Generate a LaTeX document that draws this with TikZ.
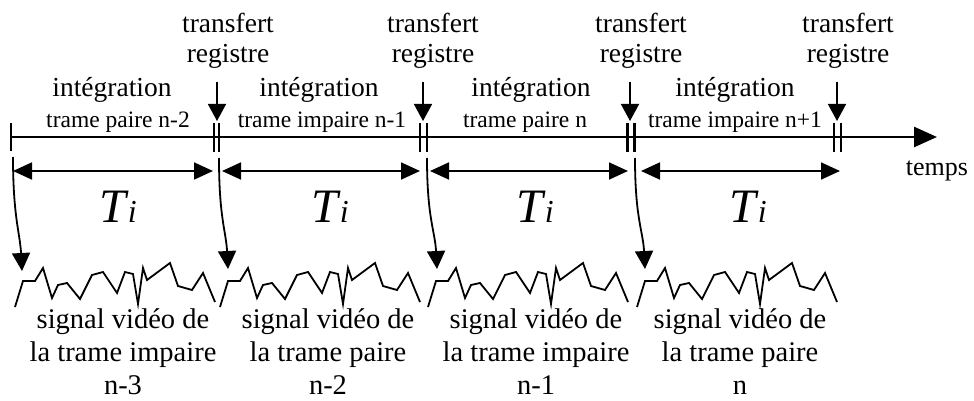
\documentclass[tikz,border=0pt]{standalone}
\usepackage{fontspec}
\setmainfont{Liberation Serif}
\usetikzlibrary{arrows.meta,positioning}
\tikzset{
  axe/.style={line width=2.6pt, -{Triangle[length=23pt,width=20pt]}},
  tick/.style={line width=2.8pt},
  bar/.style={line width=2.3pt},
  dim/.style={line width=1.8pt, {Triangle[length=19pt,width=17pt]}-{Triangle[length=19pt,width=17pt]}},
  transfer/.style={line width=1.6pt, -{Triangle[length=17pt,width=18pt]}},
  drop/.style={line width=1.8pt, -{Triangle[length=18pt,width=18pt]}},
  wave/.style={line width=1.8pt, line join=miter},
  lab/.style={font=\fontsize{27.5}{30}\selectfont, inner sep=0pt, align=center, anchor=base},
  field/.style={font=\fontsize{23.5}{26}\selectfont, inner sep=0pt, anchor=base},
  sig/.style={font=\fontsize{28.5}{33}\selectfont, inner sep=0pt, align=center, anchor=base},
  period/.style={inner sep=0pt, anchor=base},
  signal/.pic={
    \draw[wave] (0,0) -- (8,-26) -- (20,-26) -- (28,-39) -- (37,-9) -- (43,-22) -- (52,-24)
      -- (65,-8) -- (77,-32) -- (88,-35) -- (102,-14) -- (110,-35) -- (118,-33) -- (123,-3)
      -- (128,-39) -- (132,-27) -- (155,-44) -- (163,-21) -- (177,-17) -- (188,-34) -- (200,-5);
  }
}
\newcommand{\Tperiod}{{\fontsize{48}{48}\selectfont\itshape T}\kern2pt{\fontsize{32}{32}\selectfont\itshape i}}

\begin{document}
\begin{tikzpicture}[x=1pt, y=-1pt]
\useasboundingbox (0,0) rectangle (974,401);

\coordinate (b0) at (11,137);
\coordinate (b1) at (216.5,137);
\coordinate (b2) at (423.5,137);
\coordinate (b3) at (631,137);
\coordinate (b4) at (837.5,137);
\coordinate (fin) at (937,137);

\draw[axe] (b0) -- (fin);
\draw[tick] ([yshift=13.5pt]b0) -- ([yshift=-13.5pt]b0);
\node[lab, font=\fontsize{26}{30}\selectfont] (temps) at (937,175) {temps};

\draw[bar] ([xshift=-2.8pt,yshift=14pt]b1) -- ([xshift=-2.8pt,yshift=-15pt]b1);
\draw[bar] ([xshift=2.8pt,yshift=14pt]b1) -- ([xshift=2.8pt,yshift=-15pt]b1);
\draw[bar] ([xshift=-3.2pt,yshift=14pt]b2) -- ([xshift=-3.2pt,yshift=-15pt]b2);
\draw[bar] ([xshift=3.2pt,yshift=14pt]b2) -- ([xshift=3.2pt,yshift=-15pt]b2);
\draw[bar] ([xshift=-3.5pt,yshift=14pt]b3) -- ([xshift=-3.5pt,yshift=-15pt]b3);
\draw[bar] ([xshift=3.5pt,yshift=14pt]b3) -- ([xshift=3.5pt,yshift=-15pt]b3);
\draw[bar] ([xshift=-3.5pt,yshift=14pt]b4) -- ([xshift=-3.5pt,yshift=-15pt]b4);
\draw[bar] ([xshift=3.5pt,yshift=14pt]b4) -- ([xshift=3.5pt,yshift=-15pt]b4);

\node[lab] (tr1) at (228,63) {transfert\\registre};
\node[lab] (tr2) at (433,63) {transfert\\registre};
\node[lab] (tr3) at (641,63) {transfert\\registre};
\node[lab] (tr4) at (848,63) {transfert\\registre};
\coordinate (u1) at (217,82);   \coordinate (v1) at (217,121);
\coordinate (u2) at (423,82);   \coordinate (v2) at (423,121);
\coordinate (u3) at (630,82);   \coordinate (v3) at (630,121);
\coordinate (u4) at (837,82);   \coordinate (v4) at (837,121);
\draw[transfer] (u1) -- (v1);
\draw[transfer] (u2) -- (v2);
\draw[transfer] (u3) -- (v3);
\draw[transfer] (u4) -- (v4);

\node[lab] (int1) at (112,97) {intégration};
\node[lab] (int2) at (319,97) {intégration};
\node[lab] (int3) at (531,97) {intégration};
\node[lab] (int4) at (735,97) {intégration};
\node[field] (f1) at (118,128) {trame paire n-2};
\node[field] (f2) at (322,128) {trame impaire n-1};
\node[field] (f3) at (525,128) {trame paire n};
\node[field] (f4) at (735,128) {trame impaire n+1};

\coordinate (l1) at (13,171);  \coordinate (r1) at (213,171);
\coordinate (l2) at (222,171); \coordinate (r2) at (420,171);
\coordinate (l3) at (430,171); \coordinate (r3) at (628,171);
\coordinate (l4) at (641,171); \coordinate (r4) at (840,171);
\draw[dim] (l1) -- (r1);
\draw[dim] (l2) -- (r2);
\draw[dim] (l3) -- (r3);
\draw[dim] (l4) -- (r4);
\node[period] (T1) at (118,222) {\Tperiod};
\node[period] (T2) at (330,222) {\Tperiod};
\node[period] (T3) at (535,222) {\Tperiod};
\node[period] (T4) at (748,222) {\Tperiod};

\coordinate (e1) at (13,157);  \coordinate (s1) at (22,271);
\coordinate (e2) at (219,158); \coordinate (s2) at (228,269);
\coordinate (e3) at (427,158); \coordinate (s3) at (437,269);
\coordinate (e4) at (635,158); \coordinate (s4) at (645,269);
\draw[drop] (e1) .. controls +(0,60) and +(-2,-38) .. (s1);
\draw[drop] (e2) .. controls +(0,60) and +(-2,-38) .. (s2);
\draw[drop] (e3) .. controls +(0,60) and +(-2,-38) .. (s3);
\draw[drop] (e4) .. controls +(0,60) and +(-2,-38) .. (s4);

\pic at (15,307) {signal};
\pic at (220,307) {signal};
\pic at (428,307) {signal};
\pic at (637,307) {signal};

\node[sig] (v1txt) at (123,394) {signal vidéo de\\la trame impaire\\n-3};
\node[sig] (v2txt) at (328,394) {signal vidéo de\\la trame paire\\n-2};
\node[sig] (v3txt) at (536,394) {signal vidéo de\\la trame impaire\\n-1};
\node[sig] (v4txt) at (740,394) {signal vidéo de\\la trame paire\\n};

\end{tikzpicture}
\end{document}
